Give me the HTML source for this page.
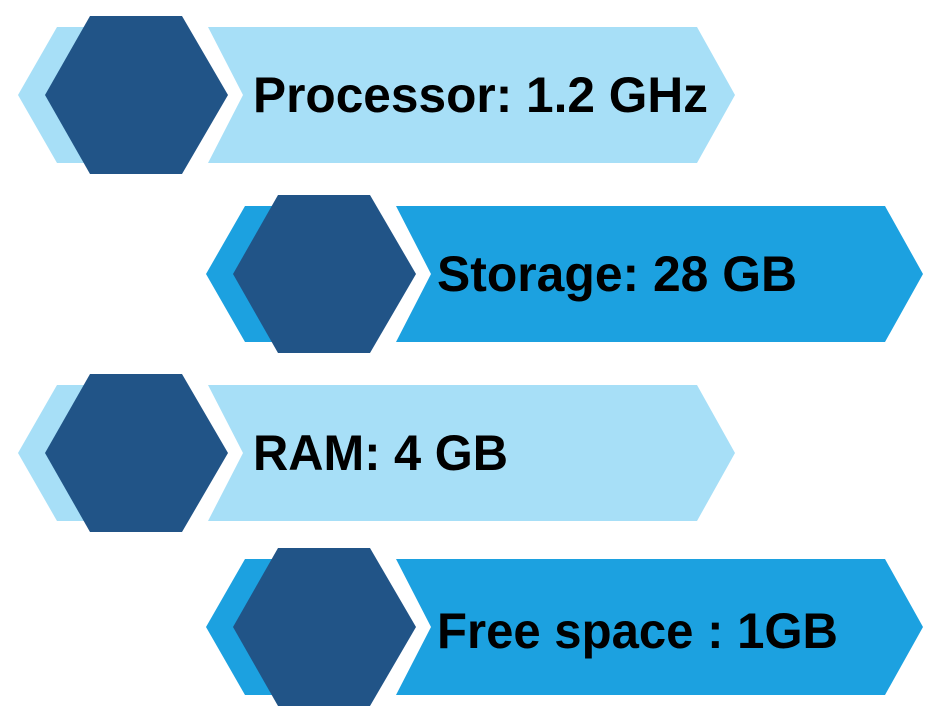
<!DOCTYPE html>
<html><head><style>html,body{margin:0;padding:0;background:#fff;}svg{display:block}</style></head>
<body>
<svg width="938" height="726" viewBox="0 0 938 726" xmlns="http://www.w3.org/2000/svg">
<defs>
<g id="row">
  <polygon points="0,0 39,-68 100,-68 100,68 39,68"/>
  <polygon points="190,-68 679,-68 717,0 679,68 190,68 225,0"/>
</g>
<polygon id="hex" points="27,0 72,-79 164,-79 210,0 164,79 72,79" fill="#215487"/>
</defs>
<g transform="translate(18,95)" fill="#a7dff7"><use href="#row"/></g>
<use href="#hex" transform="translate(18,95)"/>
<g transform="translate(206,274)" fill="#1ca1e0"><use href="#row"/></g>
<use href="#hex" transform="translate(206,274)"/>
<g transform="translate(18,453)" fill="#a7dff7"><use href="#row"/></g>
<use href="#hex" transform="translate(18,453)"/>
<g transform="translate(206,627)" fill="#1ca1e0"><use href="#row"/></g>
<use href="#hex" transform="translate(206,627)"/>
<g font-family="Liberation Sans, sans-serif" font-weight="bold" font-size="50" fill="#000">
<text x="253" y="112" textLength="455" lengthAdjust="spacingAndGlyphs">Processor: 1.2 GHz</text>
<text x="437" y="291" textLength="360" lengthAdjust="spacingAndGlyphs">Storage: 28 GB</text>
<text x="253" y="470" textLength="255" lengthAdjust="spacingAndGlyphs">RAM: 4 GB</text>
<text x="437" y="648" textLength="401" lengthAdjust="spacingAndGlyphs">Free space : 1GB</text>
</g>
</svg>
</body></html>
